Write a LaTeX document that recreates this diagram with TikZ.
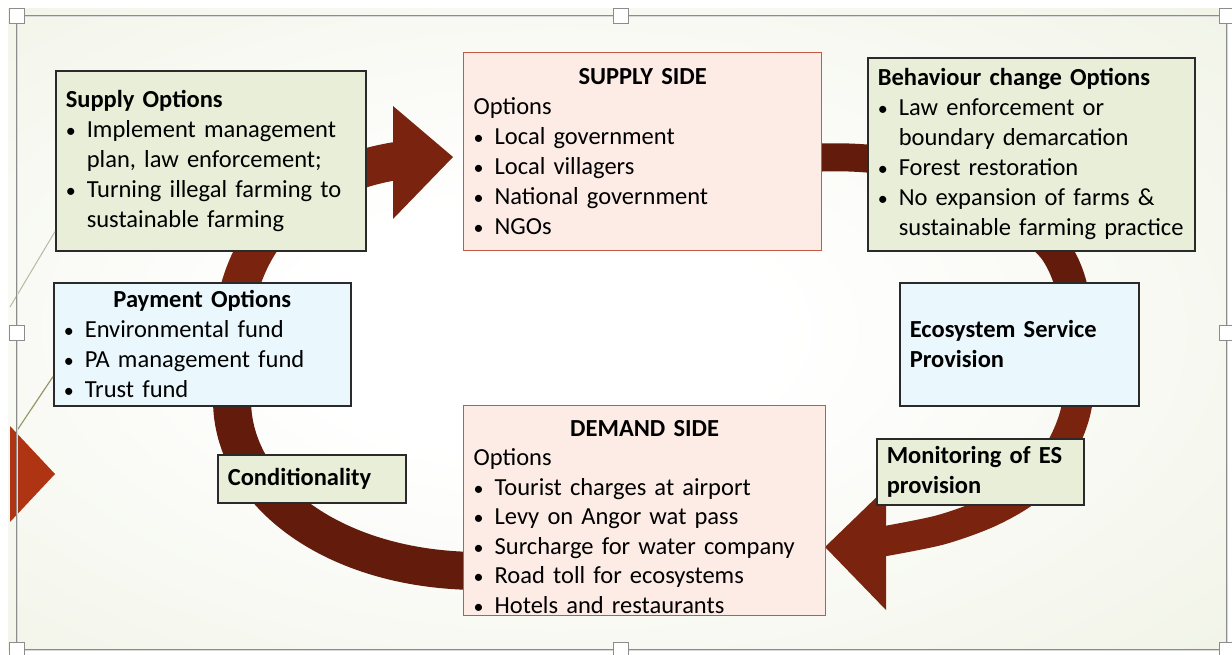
\documentclass[tikz,border=0pt]{standalone}
\usepackage{fontspec}
\setmainfont{Carlito}

\definecolor{boxgreen}{HTML}{E9EED8}
\definecolor{boxpink}{HTML}{FDECE6}
\definecolor{boxblue}{HTML}{EAF8FD}
\definecolor{pinkline}{HTML}{C55A44}
\definecolor{darkline}{HTML}{2A2A2A}
\definecolor{arrowred}{HTML}{7A2410}
\definecolor{banddark}{HTML}{631C0C}
\definecolor{edgered}{HTML}{AE3414}
\definecolor{bglight}{HTML}{F4F6EC}
\definecolor{bgolive}{HTML}{E2E8CF}

\pgfdeclareradialshading{bgglow}{\pgfpoint{-4bp}{0bp}}{color(0bp)=(white); color(10bp)=(white); color(32bp)=(bglight); color(62bp)=(bgolive)}

\newcommand\bul{\makebox[21pt][l]{\fontsize{20}{30}\selectfont\textbullet}}
\newcommand\ind{\hspace*{21pt}}

\tikzset{
  box/.style={draw=darkline, line width=1.6pt, inner xsep=10pt, inner ysep=3pt,
    align=left, anchor=north west, font=\fontsize{24.5}{30}\selectfont},
  greenbox/.style={box, fill=boxgreen},
  pinkbox/.style={box, fill=boxpink, draw=pinkline, line width=1.3pt},
  bluebox/.style={box, fill=boxblue},
  band/.style={line width=38pt, draw=banddark},
  handle/.style={draw=black!45, fill=white, line width=0.8pt, minimum size=15pt, inner sep=0pt}
}

\begin{document}
\begin{tikzpicture}[x=1pt,y=-1pt]
\useasboundingbox (0,0) rectangle (1232,655);
\shade[shading=bgglow] (8,9) rectangle (1228,650);

% the cycle behind the boxes
\draw[band] (480,571) .. controls (335,571) and (232,494) .. (232,400) -- (232,330);
\draw[band, draw=arrowred] (232,340) .. controls (235,230) and (310,175) .. (396,161);
\fill[arrowred] (393,106) -- (453,157) -- (393,219) -- cycle;
\draw[band, line width=28pt] (800,159) .. controls (830,156) and (860,157) .. (890,161);
\draw[band, line width=32pt] plot[smooth] coordinates {(1030,225) (1055,250) (1070,282) (1081,340) (1080,380)};
\draw[band, line width=30pt, draw=arrowred] plot[smooth] coordinates {(1081,330) (1077,405) (1060,450) (1030,488) (990,512) (940,530) (880,542)};
\fill[arrowred] (886,488) -- (825,547) -- (886,610) -- cycle;
\fill[edgered] (10,426) -- (55,474) -- (10,522) -- cycle;

\node[greenbox, text width=290pt, minimum height=180pt] (supopt) at (55,70)
  {\textbf{Supply Options}\\ \bul Implement management\\ \ind plan, law enforcement;\\
   \bul Turning illegal farming to\\ \ind sustainable farming};
\node[pinkbox, text width=338pt, minimum height=198pt] (supside) at (463,52)
  {\makebox[\hsize]{\textbf{SUPPLY SIDE}}\\ Options\\ \bul Local government\\
   \bul Local villagers\\ \bul National government\\ \bul NGOs};
\node[greenbox, text width=307pt, minimum height=193pt] (behav) at (867,57)
  {\textbf{Behaviour change Options}\\ \bul Law enforcement or\\ \ind boundary demarcation\\
   \bul Forest restoration\\ \bul No expansion of farms \&\\ \ind sustainable farming practice};
\node[bluebox, text width=277pt, minimum height=123pt] (payopt) at (53,282)
  {\makebox[\hsize]{\textbf{Payment Options}}\\ \bul Environmental fund\\
   \bul PA management fund\\ \bul Trust fund};
\node[bluebox, text width=219pt, minimum height=123pt] (eco) at (899,282)
  {\bfseries Ecosystem Service\\ Provision};
\node[greenbox, text width=168pt, minimum height=48pt] (cond) at (217,454)
  {\bfseries Conditionality};
\node[pinkbox, text width=342pt, minimum height=210pt, inner ysep=1pt,
      font=\fontsize{24.5}{29.5}\selectfont] (demand) at (463,405)
  {\makebox[\hsize]{\rule{0pt}{28pt}\textbf{DEMAND SIDE}}\\ Options\\ \bul Tourist charges at airport\\
   \bul Levy on Angor wat pass\\ \bul Surcharge for water company\\
   \bul Road toll for ecosystems\\ \bul Hotels and restaurants};
\node[greenbox, text width=187pt, minimum height=66pt] (monit) at (876,438)
  {\bfseries Monitoring of ES\\ provision};

% loose connector lines on the left
\draw[color=black!20!bglight!85!olive, line width=1pt] (supopt.south west) ++(0,-20) -- (10,307);
\draw[color=black!50!olive!60, line width=1.2pt] (payopt.south west) ++(0,-30) -- (16,432);

% selection frame and handles
\draw[draw=black!45, double=black!15, double distance=0.7pt, line width=0.8pt] (17,16) rectangle (1227,650);
\foreach \hx/\hy [count=\i] in {17/16, 621/16, 1227/16, 17/333, 1227/333, 17/650, 621/650, 1227/650}
  \node[handle] (h\i) at (\hx,\hy) {};
\end{tikzpicture}
\end{document}
